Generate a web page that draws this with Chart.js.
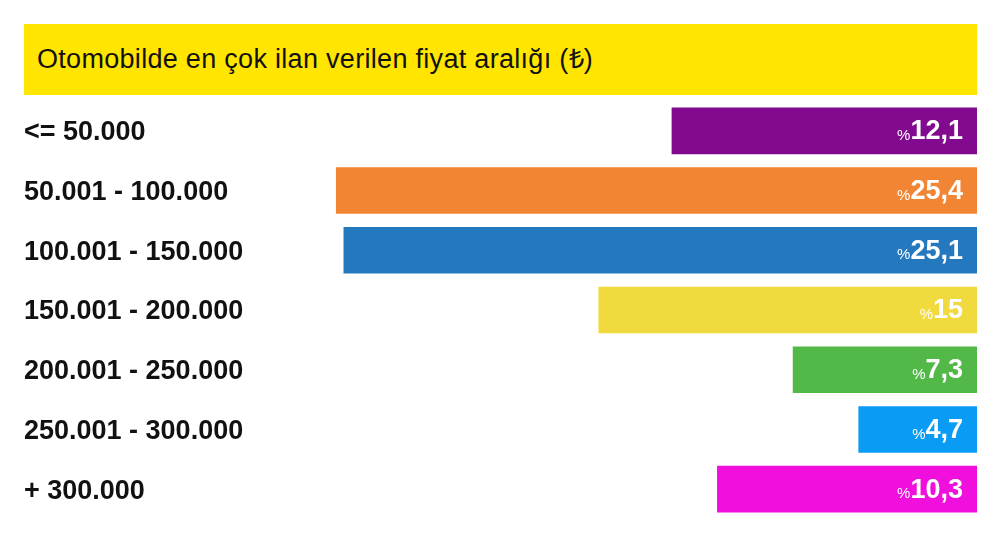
<!DOCTYPE html>
<html><head><meta charset="utf-8">
<script src="https://cdn.jsdelivr.net/npm/chart.js@4"></script>
<style>
html,body{margin:0;padding:0;background:#fff;}
#wrap{position:relative;width:1000px;height:536px;}
#title{position:absolute;left:24px;top:24px;width:953px;height:71px;background:#FFE500;font-family:"Liberation Sans",Arial,sans-serif;font-size:27px;line-height:71px;box-sizing:border-box;padding-left:13px;color:#111;letter-spacing:0.3px;}
canvas{position:absolute;left:0;top:0;}
</style></head><body>
<div id="wrap"><div id="title">Otomobilde en çok ilan verilen fiyat aralığı (₺)</div><canvas id="c" width="1000" height="536"></canvas></div>
<script>
const categories=["<= 50.000","50.001 - 100.000","100.001 - 150.000","150.001 - 200.000","200.001 - 250.000","250.001 - 300.000","+ 300.000"];
const values=[12.1,25.4,25.1,15,7.3,4.7,10.3];
const valueLabels=["12,1","25,4","25,1","15","7,3","4,7","10,3"];
const colors=["#820A8F","#F28534","#2478BE","#F1DA3E","#52B847","#0A9CF5","#F00FDC"];
const labelPlugin={id:'vl',afterDatasetsDraw(chart){
 const ctx=chart.ctx;const meta=chart.getDatasetMeta(0);const ys=chart.scales.y;
 ctx.save();ctx.textBaseline='middle';
 categories.forEach((c,i)=>{
  ctx.fillStyle='#111';ctx.textAlign='left';
  ctx.font='bold 27px "Liberation Sans",Arial,sans-serif';
  ctx.fillText(c,24,ys.getPixelForValue(i)+2);
 });
 ctx.fillStyle='#fff';
 meta.data.forEach((bar,i)=>{
  const xr=Math.max(bar.x,bar.base)-14;
  ctx.font='bold 27px "Liberation Sans",Arial,sans-serif';
  const w=ctx.measureText(valueLabels[i]).width;
  ctx.textAlign='right';ctx.fillText(valueLabels[i],xr,bar.y+1);
  ctx.font='15px "Liberation Sans",Arial,sans-serif';
  ctx.fillText('%',xr-w,bar.y+5);
 });ctx.restore();}};
new Chart(document.getElementById('c'),{type:'bar',
 data:{labels:categories,datasets:[{data:values,backgroundColor:colors,barPercentage:0.78,categoryPercentage:1}]},
 options:{indexAxis:'y',responsive:false,animation:false,
  layout:{padding:{top:101,bottom:17,left:24,right:23}},
  plugins:{legend:{display:false},tooltip:{enabled:false}},
  scales:{x:{reverse:true,min:0,max:37.76,display:false},
   y:{display:false}}},
 plugins:[labelPlugin]});
</script></body></html>
